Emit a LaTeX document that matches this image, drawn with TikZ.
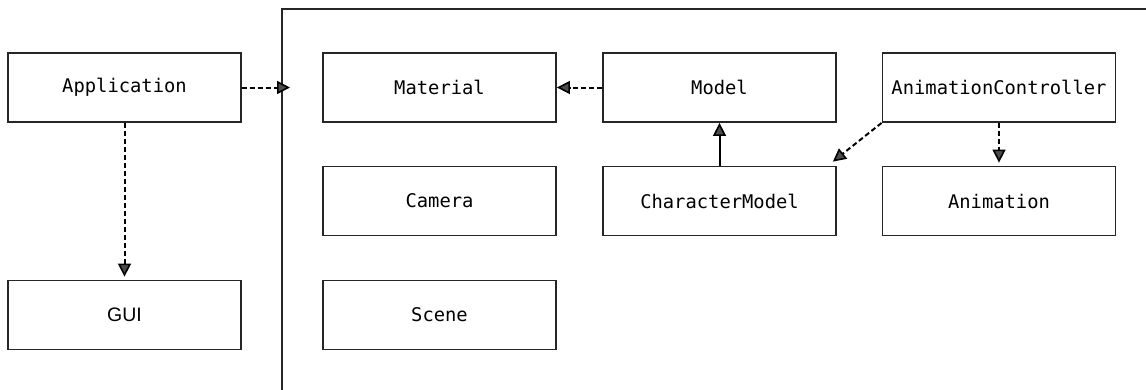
\documentclass[tikz,border=0pt]{standalone}
\usepackage{fontspec}
\setmonofont{DejaVu Sans Mono}
\newfontfamily\guifont{Liberation Sans}
\usetikzlibrary{arrows.meta}
\begin{document}
\begin{tikzpicture}[x=1pt,y=-1pt,
  box/.style={draw=black!85, line width=1.8pt, minimum width=233pt, minimum height=69pt, inner sep=0pt, font=\fontsize{18.8}{22}\selectfont\ttfamily},
  headtip/.style={-{Triangle[length=13pt, width=13pt, fill=black!70, line width=1.6pt]}},
  dep/.style={draw=black, line width=2pt, dash pattern=on 5pt off 3pt, headtip},
  inh/.style={draw=black, line width=2pt, headtip}
]
\useasboundingbox (0,0) rectangle (1146,389);
\draw[black!85, line width=1.8pt] (1150,9) -- (282,9) -- (282,395);
\node[box] (app) at (124.5,87.5) {Application};
\node[box, font=\fontsize{19.5}{22}\selectfont\guifont] (gui) at (124.5,315) {GUI};
\node[box] (mat) at (439.5,87.5) {Material};
\node[box] (cam) at (439.5,201) {Camera};
\node[box] (scn) at (439.5,315) {Scene};
\node[box] (mdl) at (719.5,87.5) {Model};
\node[box] (chr) at (719.5,201) {CharacterModel};
\node[box] (ac) at (999,87.5) {AnimationController};
\node[box] (ani) at (999,201) {Animation};
\coordinate (fl) at (290,87.5);
\draw[dep] (app.east) -- (fl);
\draw[dep] (mdl.west) -- (mat.east);
\draw[inh] (chr.north) -- (mdl.south);
\draw[dep] (ac.south west) -- ([xshift=-4pt,yshift=4pt]chr.north east);
\draw[dep] (ac.south) -- ([yshift=3pt]ani.north);
\draw[dep] (app.south) -- ([yshift=3pt]gui.north);
\end{tikzpicture}
\end{document}
